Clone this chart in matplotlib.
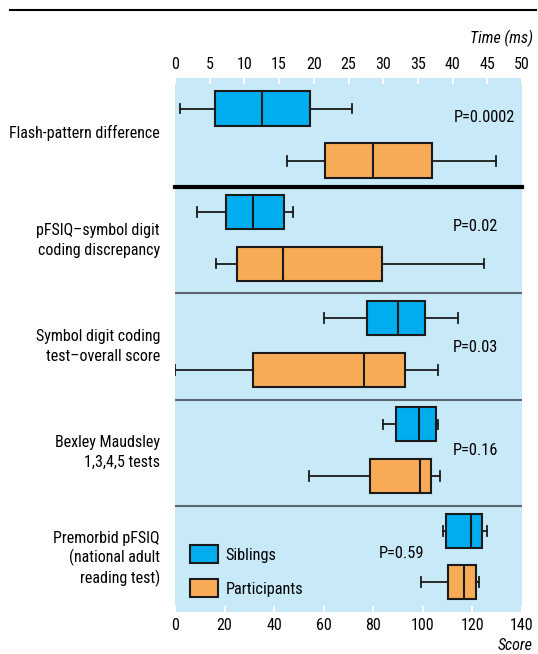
import matplotlib
matplotlib.use("Agg")
import matplotlib.pyplot as plt
from matplotlib.patches import Patch
from matplotlib import font_manager

# pick a narrow sans if one is installed
names = set(f.name for f in font_manager.fontManager.ttflist)
fam = "DejaVu Sans"
for cand in ["Liberation Sans Narrow", "Roboto Condensed", "Open Sans Condensed",
             "Noto Sans Condensed", "Roboto", "Liberation Sans"]:
    if cand in names:
        fam = cand
        break
plt.rcParams['font.family'] = [fam, 'DejaVu Sans']

# ---- data ----
# (whisker low, Q1, median, Q3, whisker high)
flash_sib = [0.7, 5.8, 12.6, 19.4, 25.5]      # ms
flash_par = [16.2, 21.6, 28.6, 37.1, 46.3]    # ms

measures = ["pFSIQ\u2013symbol digit\ncoding discrepancy",
            "Symbol digit coding\ntest\u2013overall score",
            "Bexley Maudsley\n1,3,4,5 tests",
            "Premorbid pFSIQ\n(national adult\nreading test)"]
score_sib = [[8.9, 20.7, 31.5, 44.0, 47.7],
             [60.0, 77.3, 90.1, 100.8, 114.0],
             [83.9, 89.3, 98.3, 105.2, 106.0],
             [108.1, 109.3, 119.3, 123.7, 125.9]]
score_par = [[16.4, 24.9, 43.7, 83.6, 124.6],
             [0.0, 31.3, 76.4, 92.8, 106.0],
             [54.1, 78.8, 99.0, 103.4, 106.8],
             [99.4, 110.3, 116.6, 121.3, 122.6]]
p_flash = "P=0.0002"
p_scores = ["P=0.02", "P=0.03", "P=0.16", "P=0.59"]
ms_ticks = list(range(0, 55, 5))
score_ticks = list(range(0, 160, 20))

c_bg = "#C8E9F8"
c_sib = "#00AEEF"
c_par = "#F7AB57"
c_edge = "#1a1a1a"

narrow = fam in ("Liberation Sans Narrow", "Roboto Condensed", "Open Sans Condensed",
                 "Noto Sans Condensed")
fs_lab = 11.5 if narrow else 9.3
fs_tick = 11.5 if narrow else 9.5
fs_p = 11.8 if narrow else 10


def stats(v, label):
    return dict(whislo=v[0], q1=v[1], med=v[2], q3=v[3], whishi=v[4],
                fliers=[], label=label)


def draw(ax, data, pos, color):
    ax.bxp([stats(d, "") for d in data], positions=pos, vert=False,
           widths=0.32, patch_artist=True, showfliers=False,
           boxprops=dict(facecolor=color, edgecolor=c_edge, linewidth=1.5),
           medianprops=dict(color=c_edge, linewidth=1.5),
           whiskerprops=dict(color=c_edge, linewidth=1.3),
           capprops=dict(color=c_edge, linewidth=1.3), capwidths=0.09)


fig = plt.figure(figsize=(5.38, 6.54), dpi=100)
ax1 = fig.add_axes([175/538, 1-187/654, 347/538, 109/654])
ax2 = fig.add_axes([175/538, 1-612/654, 347/538, 425/654])

for ax in (ax1, ax2):
    ax.set_facecolor(c_bg)
    for s in ax.spines.values():
        s.set_visible(False)

# top panel: time
draw(ax1, [flash_sib], [0.28], c_sib)
draw(ax1, [flash_par], [0.76], c_par)
ax1.set_xlim(0, 50)
ax1.set_ylim(1, 0)
ax1.xaxis.tick_top()
ax1.set_xticks(ms_ticks)
ax1.set_xticklabels([str(t) for t in ms_ticks])
ax1.set_yticks([])
ax1.tick_params(axis='x', direction='in', length=4, width=1.5, color='white',
                labelsize=fs_tick, pad=4)
ax1.text(40.1, 0.36, p_flash, fontsize=fs_p, va='center', ha='left')
ax1.text(-2.2, 0.5, "Flash-pattern difference", fontsize=fs_lab, ha='right', va='center')
fig.text(533/538, 1-38/654, "Time (ms)", fontsize=fs_lab, style='italic', ha='right', va='center')

# lower panels: score
n = len(measures)
draw(ax2, score_sib, [k + 0.235 for k in range(n)], c_sib)
draw(ax2, score_par, [k + 0.72 for k in range(n)], c_par)
ax2.set_xlim(0, 140)
ax2.set_ylim(n, 0)
ax2.set_xticks(score_ticks)
ax2.set_xticklabels([str(t) for t in score_ticks])
ax2.set_yticks([])
ax2.tick_params(axis='x', direction='in', length=4, width=1.5, color='white',
                labelsize=fs_tick, pad=4)
for k in range(1, n):
    ax2.axhline(k, color="#5b6670", linewidth=1.5)
ax2.axhline(0, color="black", linewidth=3, clip_on=False)
p_x = [112.1, 112.1, 112.1, 82.4]
p_y = [0.376, 1.515, 2.48, 3.45]
for k in range(n):
    ax2.text(p_x[k], p_y[k], p_scores[k], fontsize=fs_p, va='center', ha='left')
    ls = 1.4 if measures[k].count("\n") == 1 else 1.22
    ax2.text(-6.1, k + 0.5, measures[k], fontsize=fs_lab, ha='right', va='center',
             multialignment='right', linespacing=ls)
fig.text(533/538, 1-646/654, "Score", fontsize=fs_lab, style='italic', ha='right', va='center')

ax2.legend(handles=[Patch(facecolor=c_sib, edgecolor=c_edge, linewidth=1.5, label="Siblings"),
                    Patch(facecolor=c_par, edgecolor=c_edge, linewidth=1.5, label="Participants")],
           loc='lower left', bbox_to_anchor=(0.0, 0.0), frameon=False, fontsize=fs_p,
           handlelength=1.75 * 11.8 / fs_p, handleheight=1.35 * 11.8 / fs_p,
           labelspacing=0.95, handletextpad=0.45)

# rule across the top of the figure
fig.add_artist(plt.Line2D([10/538, 536/538], [1-10/654, 1-10/654], color='black', linewidth=1.5))

fig.savefig("out.png", dpi=100)
